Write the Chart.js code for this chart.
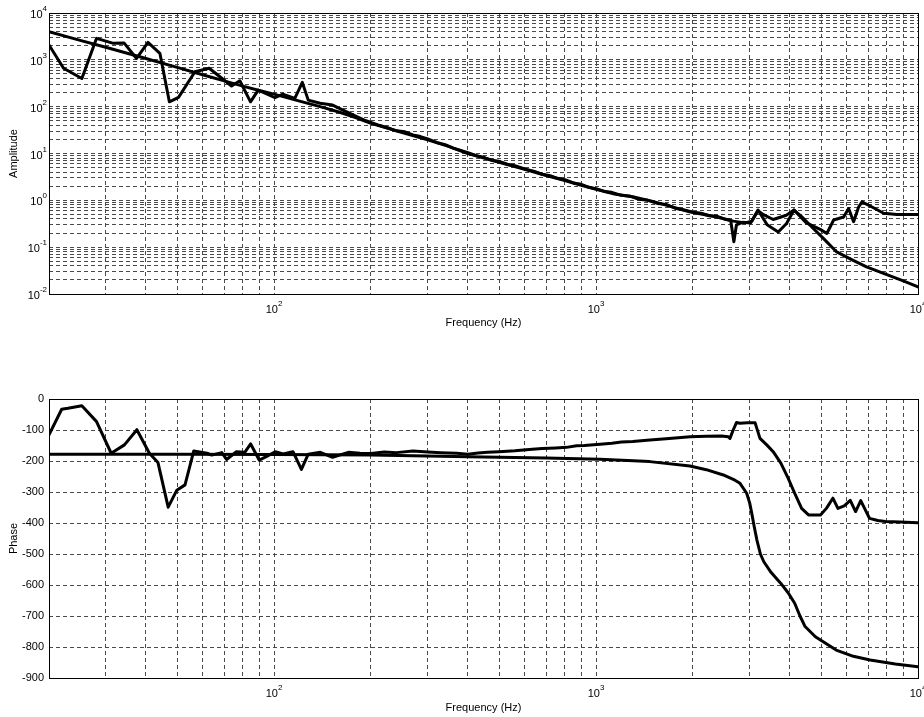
<!DOCTYPE html>
<html>
<head>
<meta charset="utf-8">
<title>Amplitude / Phase</title>
<script src="https://cdn.jsdelivr.net/npm/chart.js@4.4.0/dist/chart.umd.min.js"></script>
<style>
  body { margin: 0; background: #fff; }
  #wrap { position: relative; width: 924px; height: 717px; }
  canvas { position: absolute; left: 0; }
  #chartAmp { top: 0; }
  #chartPhase { top: 340px; }
</style>
</head>
<body>
<div id="wrap">
  <canvas id="chartAmp" width="924" height="340"></canvas>
  <canvas id="chartPhase" width="924" height="377"></canvas>
</div>
<script>
// grid / tick values
var freqTicks = [20, 30, 40, 50, 60, 70, 80, 90,
  100, 200, 300, 400, 500, 600, 700, 800, 900,
  1000, 2000, 3000, 4000, 5000, 6000, 7000, 8000, 9000, 10000]
var freqDecades = [100, 1000, 10000]
var freqExp = ['2', '3', '4']

var ampTicks = [0.01, 0.02, 0.03, 0.04, 0.05, 0.06, 0.07, 0.08, 0.09,
  0.1, 0.2, 0.3, 0.4, 0.5, 0.6, 0.7, 0.8, 0.9,
  1, 2, 3, 4, 5, 6, 7, 8, 9,
  10, 20, 30, 40, 50, 60, 70, 80, 90,
  100, 200, 300, 400, 500, 600, 700, 800, 900,
  1000, 2000, 3000, 4000, 5000, 6000, 7000, 8000, 9000, 10000]
var ampDecades = [0.01, 0.1, 1, 10, 100, 1000, 10000]
var ampExp = ['-2', '-1', '0', '1', '2', '3', '4']

var phaseTicks = [0, -100, -200, -300, -400, -500, -600, -700, -800, -900]

// amplitude - measured
var ampMeasFreq = [20, 22.2, 25.3, 28.1, 31.7, 34.2, 37.4, 40.6, 44.2, 47.3,
  50.5, 56.8, 62.9, 67.9, 73.8, 78.3, 84.5, 89.3, 100.7, 106.4,
  116, 122.4, 127.7, 139, 152, 165, 180, 190, 200, 212,
  225, 240, 255, 270, 285, 300, 320, 340, 360, 380,
  400, 425, 450, 475, 500, 530, 560, 600, 640, 680,
  720, 760, 800, 850, 900, 950, 1000, 1060, 1120, 1200,
  1280, 1360, 1450, 1550, 1650, 1760, 1880, 2000, 2120, 2250,
  2370, 2500, 2620, 2680, 2730, 2850, 3020, 3185, 3400, 3680,
  3906, 4120, 4500, 4970, 5210, 5470, 5875, 6090, 6310, 6540,
  6700, 7200, 7820, 8600, 10000]
var ampMeas = [2070, 660, 400, 2880, 2250, 2300, 1070, 2350, 1380, 127,
  158, 557, 660, 435, 275, 358, 127, 226, 155, 186,
  150, 330, 138, 118, 108, 82, 62, 52, 46, 40,
  35.5, 30.5, 29, 25, 23, 20.5, 17.2, 15.5, 13, 11.6,
  10.4, 9.0, 8.2, 7.1, 6.8, 5.9, 5.5, 4.7, 4.2, 3.6,
  3.35, 2.95, 2.75, 2.35, 2.2, 1.9, 1.78, 1.55, 1.48, 1.28,
  1.22, 1.05, 1.0, 0.86, 0.82, 0.68, 0.62, 0.56, 0.53, 0.47,
  0.46, 0.4, 0.37, 0.13, 0.3, 0.34, 0.33, 0.62, 0.3, 0.21,
  0.32, 0.62, 0.33, 0.24, 0.196, 0.38, 0.44, 0.67, 0.35, 0.72,
  0.93, 0.72, 0.53, 0.5, 0.5]

// amplitude - model
var ampModelFreq = [20, 25, 30, 35, 40, 50, 60, 70, 80, 90,
  100, 120, 139, 160, 180, 200, 250, 300, 350, 400,
  500, 600, 700, 800, 900, 1000, 1150, 1300, 1500, 1650,
  1950, 2370, 2670, 2900, 3050, 3185, 3300, 3550, 3900, 4120,
  4350, 4730, 5100, 5590, 6200, 6920, 8000, 9000, 10000]
var ampModel = [3980, 2600, 1850, 1380, 1070, 690, 480, 355, 275, 222,
  185, 131, 100, 76, 58, 44, 28, 19.5, 14, 10,
  6.5, 4.6, 3.4, 2.65, 2.1, 1.72, 1.35, 1.19, 0.95, 0.79,
  0.57, 0.44, 0.36, 0.33, 0.36, 0.6, 0.5, 0.39, 0.48, 0.62,
  0.45, 0.25, 0.15, 0.079, 0.055, 0.038, 0.026, 0.019, 0.0142]

// phase - measured
var phaseMeasFreq = [20, 21.9, 22.9, 25.3, 28.1, 31.2, 34.3, 37.5, 41, 43.6,
  46.9, 49.9, 52.9, 56.3, 61.9, 64, 68.8, 71.2, 76.4, 81.1,
  84.6, 89.9, 94.9, 100.8, 106.7, 114.5, 121.6, 127.7, 139.2, 152,
  170, 185, 200, 220, 240, 270, 300, 330, 370, 400,
  430, 460, 500, 560, 620, 680, 750, 810, 870, 920,
  1030, 1120, 1200, 1300, 1470, 1650, 1800, 1960, 2200, 2450,
  2576, 2606, 2667, 2730, 2800, 2950, 3120, 3230, 3390, 3550,
  3750, 3950, 4140, 4350, 4570, 4980, 5200, 5440, 5640, 5900,
  6160, 6400, 6640, 7070, 7500, 7920, 8800, 10000]
var phaseMeas = [-116, -33, -30, -22, -73, -175, -148, -99, -175, -205,
  -349, -294, -277, -168, -175, -181, -173, -195, -170, -172,
  -145, -197, -185, -170, -177, -170, -227, -178, -172, -188,
  -172, -175, -176, -171, -173, -168, -171, -173, -175, -178,
  -174, -172, -170, -167, -163, -160, -158, -156, -151, -150,
  -146, -143, -139, -137, -132, -128, -125, -122, -120, -119,
  -122, -127, -100, -76, -78, -77, -77, -127, -148, -170,
  -207, -255, -304, -353, -374, -374, -352, -320, -353, -345,
  -327, -363, -328, -385, -392, -395, -397, -399]

// phase - model
var phaseModelFreq = [20, 50, 100, 200, 400, 700, 1028, 1469, 1958, 2200,
  2485, 2700, 2800, 2937, 3000, 3046, 3100, 3160, 3240, 3320,
  3500, 3750, 3950, 4140, 4300, 4460, 4800, 5570, 6300, 7100,
  8500, 10000]
var phaseModel = [-178, -178, -179, -181, -186, -190, -194, -202, -216, -228,
  -245, -262, -272, -304, -335, -369, -412, -455, -500, -525,
  -560, -595, -625, -659, -700, -734, -767, -810, -830, -842,
  -855, -864]

var FONT = '"Liberation Sans", Arial, Helvetica, sans-serif'
var GRID = '#4a4a4a'

function pontos(xs, ys) {
  return xs.map(function (f, i) { return { x: f, y: ys[i] } })
}

function linha(xs, ys) {
  return {
    data: pontos(xs, ys),
    borderColor: '#000',
    borderWidth: 3,
    pointRadius: 0,
    tension: 0,
    fill: false,
    borderJoinStyle: 'round',
    borderCapStyle: 'round'
  }
}

// "10" with a raised exponent
function desenharPotencia(ctx, x, base, exp, align) {
  ctx.font = '11px ' + FONT
  var w1 = ctx.measureText('10').width
  ctx.font = '8px ' + FONT
  var w2 = ctx.measureText(exp).width
  var left = align === 'center' ? x - (w1 + w2) / 2 : x - w1 - w2
  ctx.font = '11px ' + FONT
  ctx.fillText('10', left, base)
  ctx.font = '8px ' + FONT
  ctx.fillText(exp, left + w1, base - 7)
}

// solid axes box + decade tick labels
var moldura = {
  id: 'moldura',
  afterDraw: function (chart) {
    var ctx = chart.ctx
    var a = chart.chartArea
    ctx.save()
    ctx.setLineDash([])
    ctx.strokeStyle = '#000'
    ctx.lineWidth = 1
    ctx.strokeRect(a.left + 0.5, a.top + 0.5, a.right - a.left, a.bottom - a.top)
    ctx.fillStyle = '#000'
    ctx.textAlign = 'left'
    ctx.textBaseline = 'alphabetic'
    var xs = chart.scales.x
    for (var i = 0; i < freqDecades.length; i++) {
      desenharPotencia(ctx, xs.getPixelForValue(freqDecades[i]), a.bottom + 19, freqExp[i], 'center')
    }
    var ys = chart.scales.y
    if (ys.type === 'logarithmic') {
      for (var j = 0; j < ampDecades.length; j++) {
        desenharPotencia(ctx, 47, ys.getPixelForValue(ampDecades[j]) + 5, ampExp[j], 'right')
      }
    }
    ctx.restore()
  }
}

function eixoX(altura, padTitulo) {
  return {
    type: 'logarithmic',
    min: 20,
    max: 10000,
    afterBuildTicks: function (s) { s.ticks = freqTicks.map(function (v) { return { value: v } }) },
    afterFit: function (s) { s.height = altura; s.paddingLeft = 0; s.paddingRight = 0 },
    ticks: { display: false },
    grid: { color: GRID, lineWidth: 1, drawTicks: false },
    border: { display: false, dash: [4, 3] },
    title: {
      display: true, text: 'Frequency (Hz)', color: '#000',
      font: { family: FONT, size: 11 }, padding: { top: 0, bottom: padTitulo }
    }
  }
}

function tituloY(texto) {
  return {
    display: true, text: texto, color: '#000',
    font: { family: FONT, size: 11 }, padding: { top: 7, bottom: 0 }
  }
}

var opcoesBase = {
  responsive: false,
  animation: false,
  events: [],
  plugins: { legend: { display: false }, tooltip: { enabled: false } }
}

// Amplitude (log-log)
var chartAmp = new Chart(document.getElementById('chartAmp'), {
  type: 'line',
  data: { datasets: [linha(ampMeasFreq, ampMeas), linha(ampModelFreq, ampModel)] },
  options: Object.assign({}, opcoesBase, {
    layout: { padding: { top: 13, right: 6, left: 0, bottom: 0 } },
    scales: {
      x: eixoX(46, 10),
      y: {
        type: 'logarithmic',
        min: 0.01,
        max: 10000,
        afterBuildTicks: function (s) { s.ticks = ampTicks.map(function (v) { return { value: v } }) },
        afterFit: function (s) { s.width = 49; s.paddingTop = 0; s.paddingBottom = 0 },
        ticks: { display: false },
        grid: { color: GRID, lineWidth: 1, drawTicks: false },
        border: { display: false, dash: [4, 3] },
        title: tituloY('Amplitude')
      }
    }
  }),
  plugins: [moldura]
})

// Phase (semilog x)
var chartPhase = new Chart(document.getElementById('chartPhase'), {
  type: 'line',
  data: { datasets: [linha(phaseMeasFreq, phaseMeas), linha(phaseModelFreq, phaseModel)] },
  options: Object.assign({}, opcoesBase, {
    layout: { padding: { top: 59, right: 6, left: 0, bottom: 0 } },
    scales: {
      x: eixoX(39, 2.5),
      y: {
        type: 'linear',
        min: -900,
        max: 0,
        afterBuildTicks: function (s) { s.ticks = phaseTicks.map(function (v) { return { value: v } }) },
        afterFit: function (s) { s.width = 49; s.paddingTop = 0; s.paddingBottom = 0 },
        ticks: { color: '#000', font: { family: FONT, size: 11 }, padding: 5, autoSkip: false },
        grid: { color: GRID, lineWidth: 1, drawTicks: false },
        border: { display: false, dash: [4, 3] },
        title: tituloY('Phase')
      }
    }
  }),
  plugins: [moldura]
})
</script>
</body>
</html>
